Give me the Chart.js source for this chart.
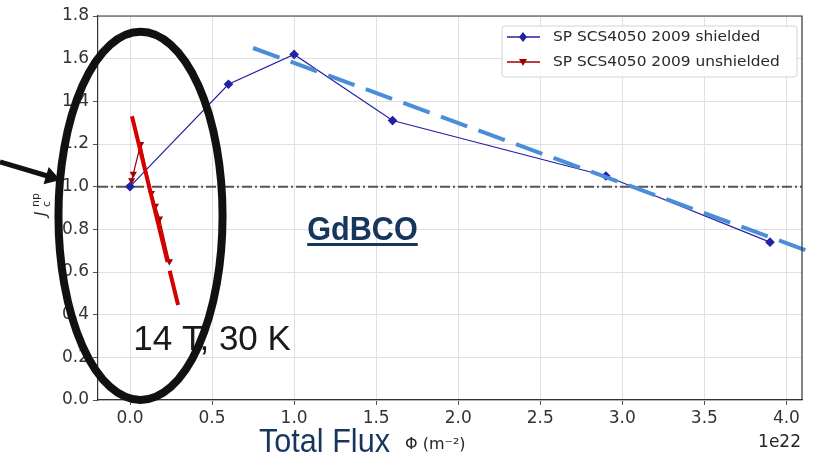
<!DOCTYPE html>
<html>
<head>
<meta charset="utf-8">
<script src="https://cdn.jsdelivr.net/npm/chart.js@4.4.1/dist/chart.umd.min.js"></script>
<style>
  html, body { margin: 0; padding: 0; background: #fff; }
  #wrap { width: 813px; height: 456px; }
</style>
</head>
<body>
<div id="wrap"><canvas id="fluxChart" width="813" height="456"></canvas></div>
<script>
// axis ticks
var xTicks = [0, 0.5, 1.0, 1.5, 2.0, 2.5, 3.0, 3.5, 4.0];
var yTicks = [0, 0.2, 0.4, 0.6, 0.8, 1.0, 1.2, 1.4, 1.6, 1.8];
var xMin = -0.195, xMax = 4.095;

// measured series (x in units of 1e22 m^-2)
var shieldedX = [0, 0.6, 1.0, 1.6, 2.9, 3.9];
var shieldedY = [1.0, 1.48, 1.62, 1.31, 1.05, 0.74];
var unshieldedX = [0, 0.01, 0.02, 0.065, 0.13, 0.155, 0.18, 0.24];
var unshieldedY = [1.0, 1.03, 1.06, 1.2, 0.97, 0.91, 0.85, 0.65];

// hand drawn trend lines
var blueTrendX = [0.75, 4.2];
var blueTrendY = [1.65, 0.679];
var redTrendX = [0.012, 0.293];
var redTrendY = [1.33, 0.445];

// reference line jc = 1
var refX = [xMin, xMax];
var refY = [1.0, 1.0];

function pts(xs, ys) {
  return xs.map(function (x, i) { return { x: x, y: ys[i] }; });
}

var navy = '#2222a4';
var darkRed = '#a00000';

// extra drawing: frame, axis label, legend, notes
var overlay = {
  id: 'overlay',
  afterDraw: function (chart) {
    var ctx = chart.ctx;
    var a = chart.chartArea;
    var xs = chart.scales.x, ys = chart.scales.y;

    // top / right spine
    ctx.save();
    ctx.strokeStyle = '#333';
    ctx.lineWidth = 1.2;
    ctx.beginPath();
    ctx.moveTo(a.left, a.top); ctx.lineTo(a.right, a.top); ctx.lineTo(a.right, a.bottom);
    ctx.stroke();
    ctx.restore();

    // legend box
    var lx = 502, ly = 26, lw = 295, lh = 51;
    ctx.save();
    ctx.fillStyle = 'rgba(255,255,255,0.85)';
    ctx.strokeStyle = '#d4d4d4';
    ctx.lineWidth = 1;
    ctx.beginPath();
    ctx.roundRect(lx, ly, lw, lh, 3);
    ctx.fill(); ctx.stroke();
    var items = [chart.data.datasets[0], chart.data.datasets[1]];
    items.forEach(function (ds, i) {
      var cy = 37 + i * 25;
      ctx.strokeStyle = ds.borderColor;
      ctx.lineWidth = 1.5;
      ctx.beginPath(); ctx.moveTo(507, cy); ctx.lineTo(540, cy); ctx.stroke();
      ctx.fillStyle = ds.borderColor;
      ctx.beginPath();
      if (i === 0) {
        ctx.moveTo(523, cy - 5); ctx.lineTo(527, cy); ctx.lineTo(523, cy + 5); ctx.lineTo(519, cy);
      } else {
        ctx.moveTo(519, cy - 3); ctx.lineTo(527, cy - 3); ctx.lineTo(523, cy + 4);
      }
      ctx.closePath(); ctx.fill();
      ctx.save();
      ctx.translate(553, cy);
      ctx.scale(1.1, 1);
      ctx.fillStyle = '#2a2a2a';
      ctx.font = '14px "DejaVu Sans"';
      ctx.textBaseline = 'middle';
      ctx.textAlign = 'left';
      ctx.fillText(ds.label, 0, 0);
      ctx.restore();
    });
    ctx.restore();

    // y axis label  J_c^np
    ctx.save();
    ctx.translate(46, 216);
    ctx.rotate(-Math.PI / 2);
    ctx.fillStyle = '#262626';
    ctx.textBaseline = 'alphabetic';
    ctx.font = 'italic 15px "DejaVu Sans"';
    ctx.fillText('J', 0, 0);
    ctx.font = '11px "DejaVu Sans"';
    ctx.fillText('c', 9, 4);
    ctx.fillText('np', 9, -7);
    ctx.restore();

    // x label
    ctx.save();
    ctx.fillStyle = '#17365d';
    ctx.textBaseline = 'alphabetic';
    ctx.translate(259, 452);
    ctx.scale(0.9, 1);
    ctx.font = '34px "Liberation Sans"';
    ctx.fillText('Total Flux', 0, 0);
    ctx.restore();
    ctx.save();
    ctx.fillStyle = '#262626';
    ctx.font = '16px "DejaVu Sans"';
    ctx.fillText('\u03A6 (m\u207B\u00B2)', 405, 449);
    ctx.font = '17px "DejaVu Sans"';
    ctx.textAlign = 'right';
    ctx.fillText('1e22', 801, 447);
    ctx.restore();

    // GdBCO note
    ctx.save();
    ctx.fillStyle = '#17365d';
    var gx = xs.getPixelForValue(1.08), gy = ys.getPixelForValue(0.75);
    ctx.translate(gx, gy);
    ctx.scale(0.9, 1);
    ctx.font = 'bold 34px "Liberation Sans"';
    ctx.fillText('GdBCO', 0, 0);
    var tw = ctx.measureText('GdBCO').width;
    ctx.fillRect(0, 3, tw, 3);
    ctx.restore();

    // 14 T, 30 K note
    ctx.save();
    ctx.fillStyle = '#1a1a1a';
    ctx.font = '35px "Liberation Sans"';
    ctx.fillText('14 T, 30 K', xs.getPixelForValue(0.02), ys.getPixelForValue(0.235));
    ctx.restore();

    // ellipse around low-fluence region
    var ecx = xs.getPixelForValue(0.064), ecy = ys.getPixelForValue(0.863);
    var erx = xs.getPixelForValue(0.564) - ecx, ery = ecy - ys.getPixelForValue(1.726);
    ctx.save();
    ctx.strokeStyle = '#111';
    ctx.lineWidth = 8;
    ctx.beginPath();
    ctx.ellipse(ecx, ecy, erx, ery, 0, 0, Math.PI * 2);
    ctx.stroke();

    // arrow pointing into the ellipse
    var tipX = ecx - erx + 2, tipY = ecy - 36;
    var ang = Math.atan2(18, 60);
    ctx.lineWidth = 5;
    ctx.beginPath();
    ctx.moveTo(0, tipY - 18);
    ctx.lineTo(tipX - 10 * Math.cos(ang), tipY - 10 * Math.sin(ang));
    ctx.stroke();
    ctx.fillStyle = '#111';
    ctx.translate(tipX, tipY);
    ctx.rotate(ang);
    ctx.beginPath();
    ctx.moveTo(0, 0); ctx.lineTo(-15, -9); ctx.lineTo(-15, 9);
    ctx.closePath(); ctx.fill();
    ctx.restore();
  }
};

var ctx = document.getElementById('fluxChart').getContext('2d');
var myChart = new Chart(ctx, {
  type: 'scatter',
  data: {
    datasets: [{
      label: 'SP SCS4050 2009 shielded',
      data: pts(shieldedX, shieldedY),
      showLine: true,
      borderColor: navy,
      backgroundColor: navy,
      borderWidth: 1.2,
      pointStyle: 'rectRot',
      pointRadius: 4,
      order: 2
    }, {
      label: 'SP SCS4050 2009 unshielded',
      data: pts(unshieldedX, unshieldedY),
      showLine: true,
      borderColor: darkRed,
      backgroundColor: darkRed,
      borderWidth: 1.2,
      pointStyle: 'triangle',
      rotation: 180,
      pointRadius: 3,
      order: 2
    }, {
      label: 'blue trend',
      data: pts(blueTrendX, blueTrendY),
      showLine: true,
      borderColor: '#4a8dd8',
      borderWidth: 4,
      borderDash: [28, 12],
      pointRadius: 0,
      clip: false,
      order: 1
    }, {
      label: 'red trend',
      data: pts(redTrendX, redTrendY),
      showLine: true,
      borderColor: '#d60000',
      borderWidth: 4,
      borderDash: [150, 9],
      pointRadius: 0,
      order: 1
    }, {
      label: 'reference',
      data: pts(refX, refY),
      showLine: true,
      borderColor: '#555',
      borderWidth: 2,
      borderDash: [10, 3, 2, 3],
      pointRadius: 0,
      order: 3
    }]
  },
  options: {
    responsive: false,
    animation: false,
    layout: { padding: { top: 16, right: 11, left: 0, bottom: 0 } },
    plugins: {
      legend: { display: false },
      tooltip: { enabled: false }
    },
    scales: {
      x: {
        type: 'linear',
        min: xMin,
        max: xMax,
        afterBuildTicks: function (axis) { axis.ticks = xTicks.map(function (v) { return { value: v }; }); },
        afterFit: function (axis) { axis.height = 56; },
        ticks: {
          callback: function (v) { return v.toFixed(1); },
          color: '#333',
          font: { family: 'DejaVu Sans', size: 17 },
          padding: 3,
          maxRotation: 0
        },
        grid: { color: '#e0e0e0', tickColor: '#555', tickLength: 5 },
        border: { color: '#333', width: 1.2 }
      },
      y: {
        min: 0,
        max: 1.8,
        afterBuildTicks: function (axis) { axis.ticks = yTicks.map(function (v) { return { value: v }; }); },
        afterFit: function (axis) { axis.width = 98; },
        ticks: {
          callback: function (v) { return v.toFixed(1); },
          color: '#333',
          font: { family: 'DejaVu Sans', size: 17 },
          padding: 4
        },
        grid: { color: '#e0e0e0', tickColor: '#555', tickLength: 5 },
        border: { color: '#333', width: 1.2 }
      }
    }
  },
  plugins: [overlay]
});
</script>
</body>
</html>
